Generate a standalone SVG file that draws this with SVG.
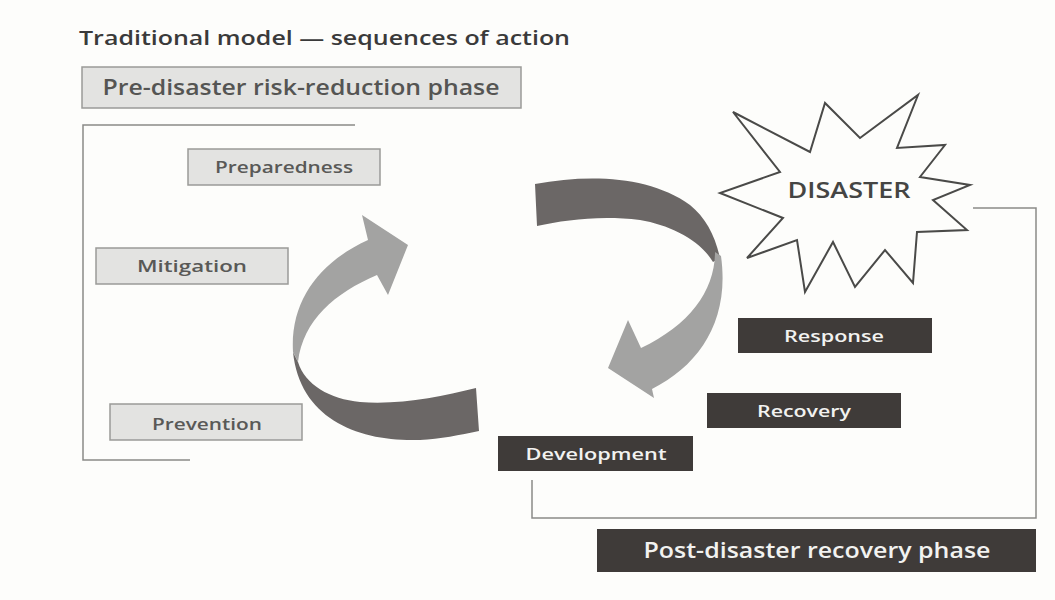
<svg xmlns="http://www.w3.org/2000/svg" width="1055" height="600" viewBox="0 0 1055 600">
<style>
.t{font-family:"Open Sans","Liberation Sans",sans-serif;font-weight:600}
.lb{fill:#e3e3e1;stroke:#9a9a98;stroke-width:1.5}
.lt{fill:#595957;font-size:17px;text-anchor:middle}
.db{fill:#3f3b39}
.dt{fill:#f2f2f0;font-size:17px;text-anchor:middle}
.ln{fill:none;stroke:#8a8a88;stroke-width:1.5}
.light{fill:#a3a3a2}
.dark{fill:#6b6766}
</style>
<rect width="1055" height="600" fill="#fdfdfb"/>
<text class="t" x="79" y="45" font-size="20" font-weight="700" fill="#3a3a3a" textLength="491" lengthAdjust="spacingAndGlyphs">Traditional model — sequences of action</text>
<g id="pre-phase">
<rect class="lb" x="82" y="67" width="439" height="41"/>
<text class="t" x="301" y="95" font-size="22" fill="#555553" text-anchor="middle" textLength="397" lengthAdjust="spacingAndGlyphs">Pre-disaster risk-reduction phase</text>
</g>
<g id="bracket">
<path class="ln" d="M355,125 H83 V460 H190" stroke="#b0b0ae"/>
</g>
<g id="preparedness">
<rect class="lb" x="188" y="149" width="192" height="36"/>
<text class="t lt" x="284" y="173" textLength="138" lengthAdjust="spacingAndGlyphs">Preparedness</text>
</g>
<g id="mitigation">
<rect class="lb" x="96" y="248" width="192" height="36"/>
<text class="t lt" x="192" y="272" textLength="110" lengthAdjust="spacingAndGlyphs">Mitigation</text>
</g>
<g id="prevention">
<rect class="lb" x="110" y="404" width="192" height="36"/>
<text class="t lt" x="207" y="430" textLength="110" lengthAdjust="spacingAndGlyphs">Prevention</text>
</g>
<g id="connectors">
<path class="dark" d="M293,352 C300,420 360,442 420,440 C440,439 460,435 479,431 L476,388 C440,397 400,405 360,402 C330,399 305,385 298,362 Z"/>
<path class="light" d="M298,362 C303,320 335,293 377,275 L388,295 L408,245 L362,215 L368,240 C320,262 290,300 293,352 Z"/>
<path class="dark" d="M535,184 C590,174 650,176 690,205 C705,217 715,235 720,258 L713,262 C700,240 670,225 640,220 C600,215 565,220 537,226 Z"/>
<path class="light" d="M715,252 C715,290 690,325 641,348 L628,320 L608,368 L654,398 L652,389 C700,365 730,320 721,256 Z"/>
<path class="ln" d="M973,208 H1036 V518 H532 V480"/>
</g>
<g id="disaster">
<polygon points="733,112 810,152 825,103 860,138 918,95 897,148 945,145 920,177 970,185 933,200 967,230 917,232 913,283 885,250 855,287 833,242 805,292 797,240 747,258 783,218 720,193 780,172" fill="#fdfdfb" stroke="#4a4a48" stroke-width="2" stroke-linejoin="miter"/>
<text class="t" x="849" y="198" font-size="22" fill="#454543" text-anchor="middle" textLength="123" lengthAdjust="spacingAndGlyphs">DISASTER</text>
</g>
<g id="response">
<rect class="db" x="738" y="318" width="194" height="35"/>
<text class="t dt" x="834" y="342" textLength="100" lengthAdjust="spacingAndGlyphs">Response</text>
</g>
<g id="recovery">
<rect class="db" x="707" y="393" width="194" height="35"/>
<text class="t dt" x="804" y="417" textLength="94" lengthAdjust="spacingAndGlyphs">Recovery</text>
</g>
<g id="development">
<rect class="db" x="498" y="436" width="195" height="35"/>
<text class="t dt" x="596" y="460" textLength="141" lengthAdjust="spacingAndGlyphs">Development</text>
</g>
<g id="post-phase">
<rect class="db" x="597" y="529" width="439" height="43"/>
<text class="t" x="817" y="558" font-size="22" fill="#f2f2f0" text-anchor="middle" textLength="347" lengthAdjust="spacingAndGlyphs">Post-disaster recovery phase</text>
</g>
</svg>
